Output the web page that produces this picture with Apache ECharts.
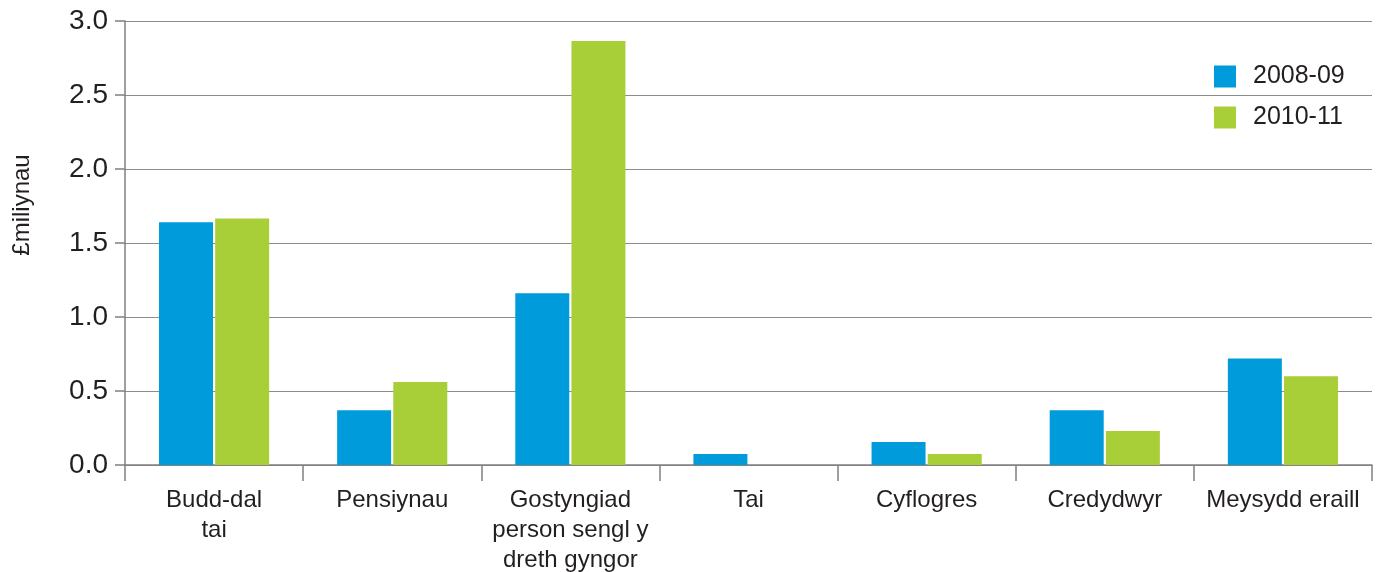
<!DOCTYPE html>
<html>
<head>
<meta charset="utf-8">
<script src="https://cdn.jsdelivr.net/npm/echarts@6/dist/echarts.min.js"></script>
<style>html,body{margin:0;padding:0;background:#fff}#c{width:1381px;height:572px}</style>
</head>
<body>
<div id="c"></div>
<script>
const categories = ['Budd-dal\ntai', 'Pensiynau', 'Gostyngiad\nperson sengl y\ndreth gyngor', 'Tai', 'Cyflogres', 'Credydwyr', 'Meysydd eraill'];
const seriesNames = ['2008-09', '2010-11'];
const values2008 = [1.64, 0.37, 1.16, 0.075, 0.155, 0.37, 0.72];
const values2010 = [1.665, 0.56, 2.865, 0, 0.075, 0.23, 0.60];
const yTicks = { min: 0, max: 3, interval: 0.5 };
const yName = '£miliynau';

const font = 'Liberation Sans, Arial, Helvetica, sans-serif';
const textColor = '#231f20';
const chart = echarts.init(document.getElementById('c'), null, { renderer: 'canvas' });
chart.setOption({
  animation: false,
  textStyle: { fontFamily: font, color: textColor },
  grid: { left: 125, right: 9, top: 21, bottom: 107, containLabel: false, outerBoundsMode: 'none' },
  legend: {
    orient: 'vertical', left: 1209, top: 59,
    itemWidth: 22, itemHeight: 22, itemGap: 16,
    icon: 'rect',
    textStyle: { fontFamily: font, fontSize: 25, color: textColor, padding: [0, 0, 0, 12] },
    data: seriesNames
  },
  xAxis: {
    type: 'category', data: categories,
    axisLine: { lineStyle: { color: '#808080', width: 1.5 } },
    axisTick: { show: true, length: 16, interval: 0, lineStyle: { color: '#808080', width: 1.5 } },
    axisLabel: { interval: 0, margin: 20, fontSize: 24, lineHeight: 30, color: textColor, fontFamily: font }
  },
  yAxis: {
    type: 'value', min: yTicks.min, max: yTicks.max, interval: yTicks.interval,
    name: yName, nameLocation: 'middle', nameGap: 91, nameRotate: 90,
    nameTextStyle: { fontSize: 24, color: textColor, fontFamily: font, padding: [0, 0, 0, 76] },
    axisLine: { show: true, lineStyle: { color: '#808080', width: 1.5 } },
    axisTick: { show: true, length: 10, lineStyle: { color: '#808080', width: 1.5 } },
    axisLabel: { margin: 17, fontSize: 28, color: textColor, fontFamily: font, formatter: v => v.toFixed(1) },
    splitLine: { lineStyle: { color: '#8c8c8c', width: 1.2 } }
  },
  series: [
    { name: seriesNames[0], type: 'bar', data: values2008, barWidth: 54, barGap: '4%', itemStyle: { color: '#009bdb' } },
    { name: seriesNames[1], type: 'bar', data: values2010, barWidth: 54, itemStyle: { color: '#a8cf38' } }
  ]
});
</script>
</body>
</html>
